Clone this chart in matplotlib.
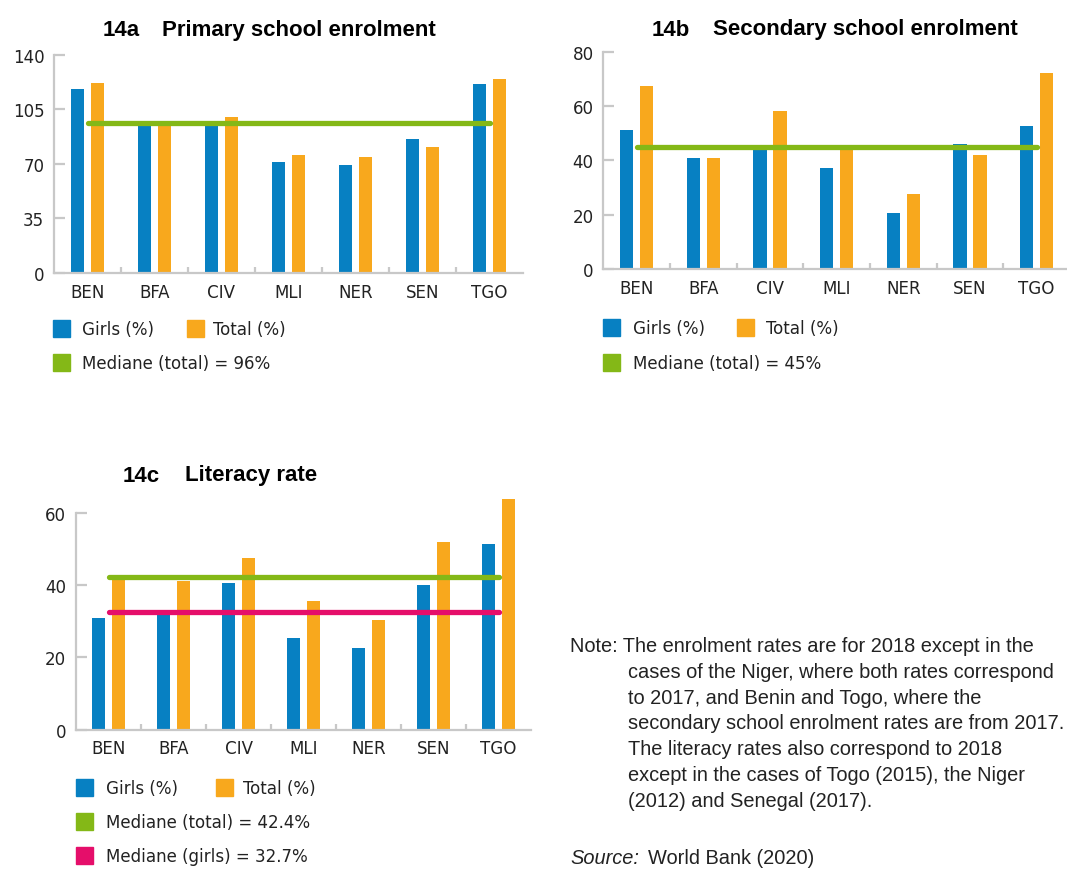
import numpy as np
import matplotlib.pyplot as plt
from matplotlib.patches import Rectangle
from matplotlib import font_manager

# Data
countries = ['BEN', 'BFA', 'CIV', 'MLI', 'NER', 'SEN', 'TGO']

primary_girls = [118, 94.5, 95, 71, 69, 86, 121]
primary_total = [122, 96, 100, 75.5, 74.5, 81, 124.5]
primary_median = 96

secondary_girls = [51, 41, 45.5, 37, 20.5, 46, 52.5]
secondary_total = [67.5, 41, 58, 45, 27.5, 42, 72]
secondary_median = 45

literacy_girls = [31, 32.7, 40.5, 25.5, 22.5, 40, 51.5]
literacy_total = [42.4, 41.2, 47.5, 35.5, 30.5, 52, 64]
literacy_median_total = 42.4
literacy_median_girls = 32.7

note_lines = [
    'Note: The enrolment rates are for 2018 except in the',
    'cases of the Niger, where both rates correspond',
    'to 2017, and Benin and Togo, where the',
    'secondary school enrolment rates are from 2017.',
    'The literacy rates also correspond to 2018',
    'except in the cases of Togo (2015), the Niger',
    '(2012) and Senegal (2017).',
]

# Colours
BLUE = '#0780c2'
ORANGE = '#f8a81d'
GREEN = '#84b817'
PINK = '#e50e6a'
GREY = '#c8c8c8'
TXT = '#222222'

W, H = 1067, 870
SANS = ['Liberation Sans', 'DejaVu Sans']

# condensed face for ticks and legends if one is installed
cond = font_manager.findfont(font_manager.FontProperties(family='DejaVu Sans', stretch='condensed'))
if 'Condensed' in cond:
    NARROW = font_manager.FontProperties(fname=cond, size=13.3)
else:
    NARROW = font_manager.FontProperties(family='Liberation Sans', size=12.5)

fig = plt.figure(figsize=(W / 100, H / 100), dpi=100)


def fx(x):
    return x / W


def fy(y):
    return 1 - y / H


def panel(left, right, top, bottom, girls, total, medians, ymax, yticks):
    ax = fig.add_axes([fx(left), fy(bottom), (right - left) / W, (bottom - top) / H])
    x = np.arange(len(countries))
    ax.bar(x - 0.15, girls, width=0.2, color=BLUE, clip_on=False, zorder=2)
    ax.bar(x + 0.15, total, width=0.2, color=ORANGE, clip_on=False, zorder=2)
    for value, color in medians:
        ax.plot([0, len(countries) - 1], [value, value], color=color, lw=3.8,
                solid_capstyle='round', zorder=3)
    ax.set_xlim(-0.5, len(countries) - 0.5)
    ax.set_ylim(0, ymax)
    ax.set_yticks(yticks)
    ax.set_xticks(x)
    ax.set_xticklabels(countries)
    ax.set_xticks(x[:-1] + 0.5, minor=True)
    for s in ['top', 'right']:
        ax.spines[s].set_visible(False)
    for s in ['left', 'bottom']:
        ax.spines[s].set_color(GREY)
        ax.spines[s].set_linewidth(1.6)
    ax.tick_params(axis='x', which='major', length=0, pad=7)
    ax.tick_params(axis='x', which='minor', direction='in', length=4,
                   width=1.6, color=GREY)
    ax.tick_params(axis='y', direction='in', length=8, width=1.6, color=GREY,
                   pad=7)
    for lab in ax.get_xticklabels() + ax.get_yticklabels():
        lab.set_fontproperties(NARROW)
        lab.set_color(TXT)
    return ax


def legend_box(x, y, color):
    fig.patches.append(Rectangle((fx(x), fy(y + 17)), 17 / W, 17 / H,
                                 transform=fig.transFigure, color=color))


def legend_text(x, y, text):
    fig.text(fx(x), fy(y + 9), text, fontproperties=NARROW,
             color=TXT, va='center', ha='left')


def title(xnum, xtxt, y, num, text):
    fig.text(fx(xnum), fy(y), num, family=SANS, fontsize=16,
             fontweight='bold', va='baseline')
    fig.text(fx(xtxt), fy(y), text, family=SANS, fontsize=16,
             fontweight='bold', va='baseline')


# 14a
panel(54, 523, 55.7, 274, primary_girls, primary_total,
      [(primary_median, GREEN)], 140, [0, 35, 70, 105, 140])
title(103, 162, 36, '14a', 'Primary school enrolment')
legend_box(53, 321, BLUE)
legend_text(82, 321, 'Girls (%)')
legend_box(187, 321, ORANGE)
legend_text(213, 321, 'Total (%)')
legend_box(53, 355, GREEN)
legend_text(82, 355, 'Mediane (total) = 96%')

# 14b
panel(603.3, 1070, 52.7, 270, secondary_girls, secondary_total,
      [(secondary_median, GREEN)], 80, [0, 20, 40, 60, 80])
title(652, 713, 35.5, '14b', 'Secondary school enrolment')
legend_box(603, 320, BLUE)
legend_text(633, 320, 'Girls (%)')
legend_box(737, 320, ORANGE)
legend_text(766, 320, 'Total (%)')
legend_box(603, 355, GREEN)
legend_text(633, 355, 'Mediane (total) = 45%')

# 14c
panel(76, 531, 514, 730.7, literacy_girls, literacy_total,
      [(literacy_median_total, GREEN), (literacy_median_girls, PINK)],
      60, [0, 20, 40, 60])
title(123, 185, 481.5, '14c', 'Literacy rate')
legend_box(76, 780, BLUE)
legend_text(106, 780, 'Girls (%)')
legend_box(216, 780, ORANGE)
legend_text(243, 780, 'Total (%)')
legend_box(76, 814, GREEN)
legend_text(106, 814, 'Mediane (total) = 42.4%')
legend_box(76, 848, PINK)
legend_text(106, 848, 'Mediane (girls) = 32.7%')

# Note and source
for i, line in enumerate(note_lines):
    xpos = 570 if i == 0 else 628
    fig.text(fx(xpos), fy(652 + 25.8 * i), line, family=SANS, fontsize=14.4,
             color=TXT, va='baseline')
fig.text(fx(570), fy(864), 'Source:', family=SANS, fontsize=14.4,
         style='italic', color=TXT, va='baseline')
fig.text(fx(648), fy(864), 'World Bank (2020)', family=SANS, fontsize=14.4,
         color=TXT, va='baseline')

plt.savefig('out.png', dpi=100)
